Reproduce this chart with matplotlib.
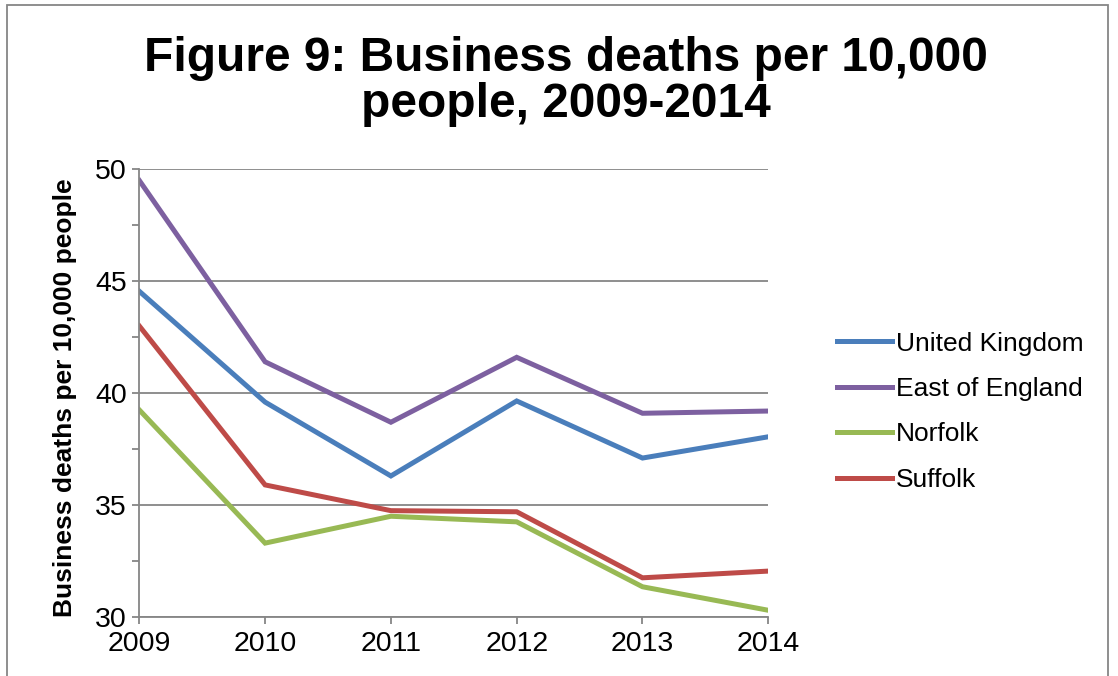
import matplotlib
matplotlib.use("Agg")
import matplotlib.pyplot as plt
from matplotlib.patches import Rectangle
from matplotlib.ticker import MultipleLocator

plt.rcParams['font.family'] = ['Liberation Sans', 'DejaVu Sans']

years = [2009, 2010, 2011, 2012, 2013, 2014]

uk = [44.55, 39.6, 36.3, 39.65, 37.1, 38.05]
east_england = [49.5, 41.4, 38.7, 41.6, 39.1, 39.2]
norfolk = [39.25, 33.3, 34.5, 34.25, 31.35, 30.3]
suffolk = [43.0, 35.9, 34.75, 34.7, 31.75, 32.05]

series_names = ["United Kingdom", "East of England", "Norfolk", "Suffolk"]
series_colors = ["#4A7EBB", "#7D60A0", "#98B954", "#BE4B48"]

fig = plt.figure(figsize=(11.18, 6.76), dpi=100)
ax = fig.add_axes([0.1246, 0.0873, 0.5626, 0.6623])

for vals, name, col in zip([uk, east_england, norfolk, suffolk],
                           series_names, series_colors):
    ax.plot(years, vals, color=col, linewidth=3.6, label=name,
            solid_joinstyle='miter')

ax.set_xlim(2009, 2014)
ax.set_ylim(30, 50)
ax.set_xticks(years)
ax.yaxis.set_major_locator(MultipleLocator(5))
ax.yaxis.set_minor_locator(MultipleLocator(2.5))
ax.grid(axis='y', which='major', color='#868686', linewidth=1.3)
ax.set_axisbelow(True)

for side in ['top', 'right']:
    ax.spines[side].set_visible(False)
for side in ['left', 'bottom']:
    ax.spines[side].set_color('#868686')
    ax.spines[side].set_linewidth(1.3)

ax.tick_params(which='both', direction='out', color='#868686', width=1.3,
               length=5, labelsize=20.5, pad=4)
ax.tick_params(axis='x', pad=5)

ax.set_ylabel("Business deaths per 10,000 people", fontsize=19,
              fontweight='bold')
ax.yaxis.set_label_coords(-0.099, 0.49)

fig.suptitle("Figure 9: Business deaths per 10,000\npeople, 2009-2014",
             fontsize=34.5, fontweight='bold', x=0.506, y=0.947,
             linespacing=1.02)

fig.legend(loc='center left', bbox_to_anchor=(0.737, 0.391),
           frameon=False, fontsize=19, handlelength=2.08,
           handletextpad=0.15, labelspacing=0.81, borderpad=0)

# outer chart border
fig.patches.append(Rectangle((7 / 1118, -0.01), 1101 / 1118, 1.01 - 5 / 676,
                             transform=fig.transFigure, fill=False,
                             edgecolor='#868686', linewidth=1.3))

fig.savefig("out.png", dpi=100)
